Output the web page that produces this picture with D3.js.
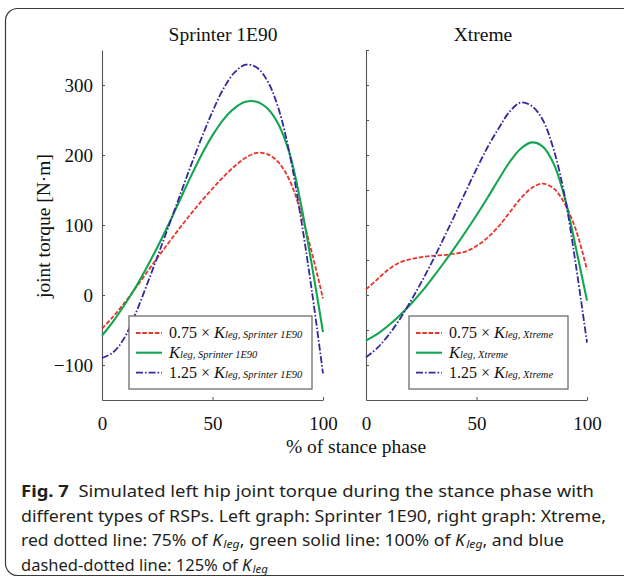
<!DOCTYPE html>
<html>
<head>
<meta charset="utf-8">
<script src="https://cdn.jsdelivr.net/npm/d3@7"></script>
<style>
  body { margin: 0; background: #fff; }
  #graph { width: 624px; height: 579px; }
</style>
</head>
<body>
<div id="graph"></div>
<script>
// stance phase sample points (% of stance)
const stancePct = [0, 5, 10, 15, 20, 25, 30, 35, 40, 45, 50, 55, 60, 65, 70, 75, 80, 85, 90, 95, 100];

// Sprinter 1E90 hip torque [N·m]
const sprinter075 = [-48, -31, -12, 9, 31, 53, 74, 95, 115, 134, 152, 169, 184, 196, 203, 201, 189, 163, 118, 60, -5];
const sprinter100 = [-58, -38, -15, 10, 38, 68, 100, 134, 168, 200, 228, 251, 267, 276, 276, 266, 243, 201, 130, 42, -53];
const sprinter125 = [-90, -82, -62, -28, 12, 54, 97, 140, 183, 224, 262, 295, 318, 329, 325, 305, 265, 200, 110, 5, -112];

// Xtreme hip torque [N·m]
const xtreme075 = [8, 22, 36, 46, 51, 54, 56, 57, 59, 62, 70, 82, 98, 118, 138, 153, 159, 152, 130, 93, 36];
const xtreme100 = [-65, -56, -44, -30, -14, 4, 24, 45, 67, 90, 114, 139, 165, 190, 209, 218, 212, 187, 138, 67, -8];
const xtreme125 = [-89, -76, -58, -36, -10, 18, 48, 80, 113, 147, 180, 211, 238, 262, 275, 270, 250, 207, 140, 42, -68];

const panelTitles = ["Sprinter 1E90", "Xtreme"];
const legendSubs = ["leg, Sprinter 1E90", "leg, Xtreme"];
const legendPrefix = ["0.75 × ", "", "1.25 × "];
const xTicks = [0, 50, 100];
const yTicksLabelled = [-100, 0, 100, 200, 300];
const yTicksMinor = [-100, -50, 0, 50, 100, 150, 200, 250, 300, 350];

(function () {
    const width = 624, height = 579;
    const serif = "'Liberation Serif', 'Times New Roman', serif";
    const sans = "'Noto Sans', 'Open Sans', sans-serif";

    let svg = d3.select("#graph")
        .append("svg")
        .attr("width", width)
        .attr("height", height);

    svg.append("rect").attr("width", width).attr("height", height).attr("fill", "#fff");

    // rounded figure frame, runs off the right edge
    svg.append("rect")
        .attr("x", 5.5).attr("y", 8.5)
        .attr("width", 660).attr("height", 567)
        .attr("rx", 12)
        .attr("fill", "none")
        .attr("stroke", "#3a3a3a")
        .attr("stroke-width", 1.2);

    const y = d3.scaleLinear().domain([-150, 350]).range([400, 50]);

    const styles = [
        { color: "#e8352b", dash: "4.5,1.8", w: 1.8 },
        { color: "#12a650", dash: null, w: 2.1 },
        { color: "#35299a", dash: "7,2,1.6,2", w: 1.8 }
    ];

    const panels = [
        { x0: 102, x1: 323, title: panelTitles[0], titleX: 223, series: [sprinter075, sprinter100, sprinter125], sub: legendSubs[0], legend: { x: 129, w: 183 } },
        { x0: 366, x1: 587, title: panelTitles[1], titleX: 483, series: [xtreme075, xtreme100, xtreme125], sub: legendSubs[1], legend: { x: 409, w: 159 } }
    ];

    panels.forEach(function (p, pi) {
        let x = d3.scaleLinear().domain([0, 100]).range([p.x0, p.x1]);

        // y axis: labels only on the left panel, minor ticks on the right one
        let yAxis = d3.axisLeft(y)
            .tickSizeInner(-3)
            .tickSizeOuter(0)
            .tickPadding(9);
        if (pi === 0) {
            yAxis.tickValues(yTicksLabelled).tickFormat(d3.format("d"));
        } else {
            yAxis.tickValues(yTicksMinor).tickFormat("");
        }
        let gy = svg.append("g")
            .attr("transform", `translate(${p.x0}, 0)`)
            .call(yAxis);

        // x axis
        let gx = svg.append("g")
            .attr("transform", `translate(0, ${y(-150)})`)
            .call(d3.axisBottom(x).tickValues(xTicks).tickSizeInner(-3).tickSizeOuter(0).tickPadding(17));

        [gx, gy].forEach(function (g) {
            g.select(".domain").attr("stroke", "#555").attr("stroke-width", 1.1);
            g.selectAll(".tick line").attr("stroke", "#555");
            g.selectAll(".tick text")
                .attr("fill", "#111")
                .style("font-family", serif)
                .style("font-size", "19px");
        });

        // panel title
        svg.append("text")
            .attr("x", p.titleX).attr("y", 41)
            .attr("text-anchor", "middle")
            .style("font-family", serif)
            .style("font-size", "19.5px")
            .attr("fill", "#111")
            .text(p.title);

        // curves
        let line = d3.line()
            .x((d, i) => x(stancePct[i]))
            .y(d => y(d))
            .curve(d3.curveCatmullRom.alpha(0.5));

        p.series.forEach(function (vals, si) {
            svg.append("path")
                .datum(vals)
                .attr("d", line)
                .attr("fill", "none")
                .attr("stroke", styles[si].color)
                .attr("stroke-width", styles[si].w)
                .attr("stroke-dasharray", styles[si].dash);
        });

        // legend
        let lg = svg.append("g").attr("transform", `translate(${p.legend.x}, 316)`);
        lg.append("rect")
            .attr("width", p.legend.w).attr("height", 73)
            .attr("fill", "#fff")
            .attr("stroke", "#6d6d6d")
            .attr("stroke-width", 1.3);

        [17, 36.7, 56.7].forEach(function (ry, si) {
            lg.append("line")
                .attr("x1", 7).attr("x2", 33)
                .attr("y1", ry).attr("y2", ry)
                .attr("stroke", styles[si].color)
                .attr("stroke-width", styles[si].w)
                .attr("stroke-dasharray", styles[si].dash);

            let t = lg.append("text")
                .attr("x", 40).attr("y", ry + 5)
                .attr("fill", "#111")
                .style("font-family", serif);
            if (legendPrefix[si]) {
                t.append("tspan").style("font-size", "16px").text(legendPrefix[si]);
            }
            t.append("tspan").style("font-size", "16.5px").style("font-style", "italic").text("K");
            t.append("tspan").style("font-size", "10.5px").style("font-style", "italic").text(p.sub);
        });
    });

    // axis titles
    svg.append("text")
        .attr("transform", "translate(50, 226) rotate(-90)")
        .attr("text-anchor", "middle")
        .style("font-family", serif)
        .style("font-size", "19.5px")
        .attr("fill", "#111")
        .text("joint torque [N·m]");

    svg.append("text")
        .attr("x", 356).attr("y", 453)
        .attr("text-anchor", "middle")
        .style("font-family", serif)
        .style("font-size", "19.5px")
        .attr("fill", "#111")
        .text("% of stance phase");

    // caption
    let cap = svg.append("g")
        .style("font-family", sans)
        .style("font-size", "16.5px")
        .attr("fill", "#231f20");

    let l1 = cap.append("text").attr("x", 21).attr("y", 497).attr("textLength", 573).attr("lengthAdjust", "spacingAndGlyphs");
    l1.append("tspan").style("font-weight", "bold").text("Fig. 7");
    l1.append("tspan").text("\u00a0 Simulated left hip joint torque during the stance phase with");

    cap.append("text").attr("x", 21).attr("y", 522).attr("textLength", 585).attr("lengthAdjust", "spacingAndGlyphs")
        .text("different types of RSPs. Left graph: Sprinter 1E90, right graph: Xtreme,");

    function kleg(t) {
        t.append("tspan").style("font-style", "italic").text("K");
        t.append("tspan").style("font-style", "italic").style("font-size", "11.5px")
            .attr("dx", 1.2).attr("dy", 2).text("leg");
        return t;
    }

    let l3 = cap.append("text").attr("x", 21).attr("y", 546).attr("textLength", 543).attr("lengthAdjust", "spacingAndGlyphs");
    l3.append("tspan").text("red dotted line: 75% of ");
    kleg(l3);
    l3.append("tspan").attr("dy", -2).text(", green solid line: 100% of ");
    kleg(l3);
    l3.append("tspan").attr("dy", -2).text(", and blue");

    let l4 = cap.append("text").attr("x", 21).attr("y", 571);
    l4.append("tspan").text("dashed-dotted line: 125% of ");
    kleg(l4);
})();
</script>
</body>
</html>
